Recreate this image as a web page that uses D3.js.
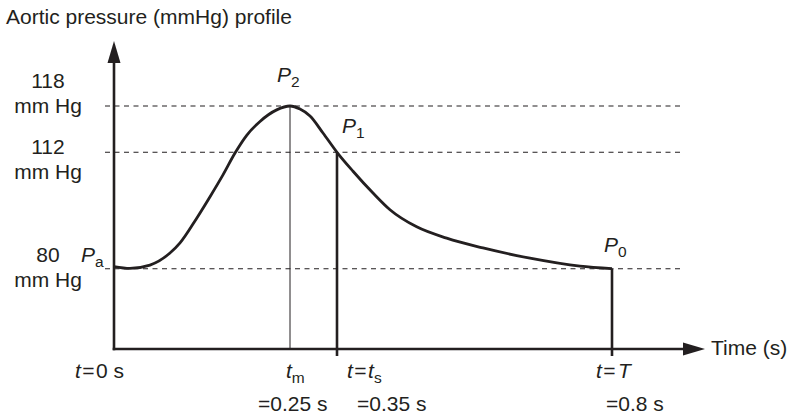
<!DOCTYPE html>
<html>
<head>
<meta charset="utf-8">
<script src="https://cdn.jsdelivr.net/npm/d3@7"></script>
<style>
  html, body { margin: 0; padding: 0; background: #fff; }
  svg { display: block; }
  text { font-family: "Liberation Sans", Arial, sans-serif; fill: #231f20; }
</style>
</head>
<body>
<svg id="chart" width="790" height="415"></svg>
<script>
// Aortic pressure over one cardiac cycle (schematic)
const timeS = [0, 0.0227, 0.0511, 0.0795, 0.0938, 0.1175, 0.1364, 0.1548, 0.1719, 0.1885,
               0.2074, 0.2311, 0.25, 0.2713, 0.2926, 0.3202, 0.35, 0.3762, 0.4089, 0.4367,
               0.4804, 0.5295, 0.5889, 0.6658, 0.7476, 0.8];
const pressureMmHg = [80.6, 80.1, 81.0, 84.3, 87.1, 93.9, 99.8, 105.8, 111.8, 114.2,
                      116.0, 117.5, 118, 117.6, 116.7, 114.5, 112, 106.8, 100.8, 96.2,
                      91.5, 88.4, 85.7, 82.9, 80.7, 80];

// Reference pressure levels
const levelValues = [118, 112, 80];
const levelLabels = ["118", "112", "80"];

// Key instants: t_m (peak), t_s (end of systole), T (end of cycle)
const keyTimes = [0.25, 0.35, 0.8];
const keyPressures = [118, 112, 80];

const ink = "#231f20";
const svg = d3.select("#chart");

// Schematic (piecewise) scales
const x = d3.scaleLinear().domain([0, 0.25, 0.35, 0.8]).range([114, 290, 337, 612]);
const y = d3.scaleLinear().domain([80, 112, 118]).range([268.7, 152.3, 106]);

const axisY0 = 349, axisX0 = 114;

// Dashed reference lines
svg.append("g").selectAll("line").data(levelValues).join("line")
  .attr("x1", 105).attr("x2", 683)
  .attr("y1", d => y(d)).attr("y2", d => y(d))
  .attr("stroke", ink).attr("stroke-width", 1.1)
  .attr("stroke-dasharray", "5,4.5");

// Vertical markers
svg.append("line")
  .attr("x1", x(keyTimes[0])).attr("x2", x(keyTimes[0]))
  .attr("y1", y(keyPressures[0])).attr("y2", axisY0)
  .attr("stroke", ink).attr("stroke-width", 1);
[1, 2].forEach(i => {
  svg.append("line")
    .attr("x1", x(keyTimes[i])).attr("x2", x(keyTimes[i]))
    .attr("y1", y(keyPressures[i])).attr("y2", axisY0 + 7)
    .attr("stroke", ink).attr("stroke-width", 2.6);
});

// Axes with arrow heads
svg.append("line").attr("x1", axisX0).attr("x2", axisX0)
  .attr("y1", axisY0 + 1.3).attr("y2", 60)
  .attr("stroke", ink).attr("stroke-width", 2.6);
svg.append("path")
  .attr("d", `M${axisX0},41 L${axisX0 - 6.5},63 L${axisX0 + 6.5},63 Z`)
  .attr("fill", ink);
svg.append("line").attr("x1", axisX0 - 1.3).attr("x2", 685)
  .attr("y1", axisY0).attr("y2", axisY0)
  .attr("stroke", ink).attr("stroke-width", 2.6);
svg.append("path")
  .attr("d", `M705,${axisY0} L683,${axisY0 - 6.5} L683,${axisY0 + 6.5} Z`)
  .attr("fill", ink);

// Pressure curve
const line = d3.line()
  .x((d, i) => x(timeS[i]))
  .y(d => y(d))
  .curve(d3.curveMonotoneX);
svg.append("path").datum(pressureMmHg)
  .attr("d", line)
  .attr("fill", "none").attr("stroke", ink)
  .attr("stroke-width", 2.8).attr("stroke-linejoin", "round");

const fs = 21;
const subFs = 15.5;

// Title
svg.append("text").attr("x", 6).attr("y", 24).attr("font-size", fs)
  .text("Aortic pressure (mmHg) profile");

// Level labels
const levelLabelY = [[88, 113], [154, 178.5], [262, 287]];
levelValues.forEach((v, i) => {
  svg.append("text").attr("x", 48).attr("y", levelLabelY[i][0])
    .attr("text-anchor", "middle").attr("font-size", fs).text(levelLabels[i]);
  svg.append("text").attr("x", 48).attr("y", levelLabelY[i][1])
    .attr("text-anchor", "middle").attr("font-size", fs).text("mm Hg");
});

// Point labels with subscripts
function subLabel(px, py, main, sub) {
  const t = svg.append("text").attr("x", px).attr("y", py).attr("font-size", fs);
  t.append("tspan").attr("font-style", "italic").text(main);
  t.append("tspan").attr("font-size", subFs).attr("dy", 5).text(sub);
  return t;
}
subLabel(81, 262, "P", "a");
subLabel(277, 82, "P", "2");
subLabel(342, 133, "P", "1");
subLabel(604, 252, "P", "0");

// Axis title
svg.append("text").attr("x", 711).attr("y", 355).attr("font-size", fs).text("Time (s)");

// Time labels
function timeLabel(px, py) {
  return svg.append("text").attr("x", px).attr("y", py).attr("font-size", fs);
}
let t0 = timeLabel(75, 378);
t0.append("tspan").attr("font-style", "italic").text("t");
t0.append("tspan").attr("dx", 1.5).text("=");
t0.append("tspan").attr("dx", 1.5).text("0 s");

let tm = timeLabel(286, 378);
tm.append("tspan").attr("font-style", "italic").text("t");
tm.append("tspan").attr("font-size", subFs).attr("dy", 5).text("m");

let ts = timeLabel(347, 378);
ts.append("tspan").attr("font-style", "italic").text("t");
ts.append("tspan").attr("dx", 1.5).text("=");
ts.append("tspan").attr("dx", 1.5).attr("font-style", "italic").text("t");
ts.append("tspan").attr("font-size", subFs).attr("dy", 5).text("s");

let tT = timeLabel(596, 378);
tT.append("tspan").attr("font-style", "italic").text("t");
tT.append("tspan").attr("dx", 1.5).text("=");
tT.append("tspan").attr("dx", 2.5).attr("font-style", "italic").text("T");

timeLabel(258, 411).text("=0.25 s");
timeLabel(357, 411).text("=0.35 s");
timeLabel(606, 411).text("=0.8 s");
</script>
</body>
</html>
